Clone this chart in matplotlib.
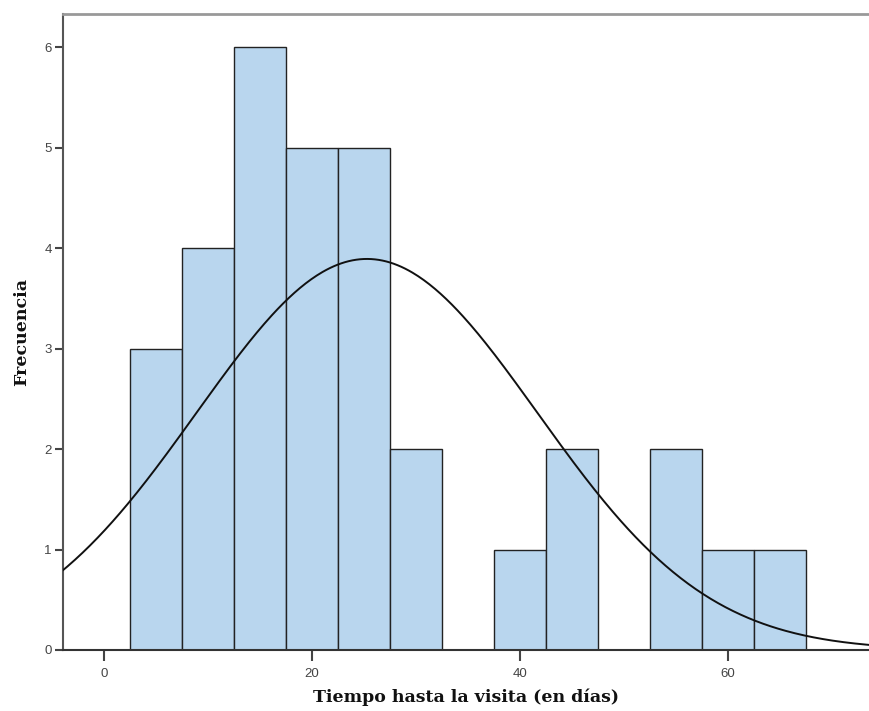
import numpy as np
import matplotlib.pyplot as plt

# histogram of days until visit (bin width 5)
bin_edges = [2.5, 7.5, 12.5, 17.5, 22.5, 27.5, 32.5, 37.5, 42.5, 47.5, 52.5, 57.5, 62.5, 67.5]
counts = [3, 4, 6, 5, 5, 2, 0, 1, 2, 0, 2, 1, 1]
n_total = 32
mean = 25.3
std = 16.4
xticks = [0, 20, 40, 60]
yticks = [0, 1, 2, 3, 4, 5, 6]

fig = plt.figure(figsize=(8.69, 7.11), dpi=100)
ax = fig.add_axes([63 / 869, 61 / 711, 806 / 869, 636 / 711])

lefts = bin_edges[:-1]
widths = np.diff(bin_edges)
for l, w, c in zip(lefts, widths, counts):
    if c > 0:
        ax.bar(l, c, width=w, align='edge', color='#b9d6ee',
               edgecolor='#222222', linewidth=1.0, zorder=2)

xs = np.linspace(-10, 80, 500)
bw = widths[0]
ys = n_total * bw / (std * np.sqrt(2 * np.pi)) * np.exp(-(xs - mean) ** 2 / (2 * std ** 2))
ax.plot(xs, ys, color='#111111', linewidth=1.4, zorder=3)

ax.set_xlim(-3.94, 73.6)
ax.set_ylim(0, 6.33)
ax.set_xticks(xticks)
ax.set_yticks(yticks)

ax.spines['right'].set_visible(False)
ax.spines['top'].set_color('#999999')
ax.spines['top'].set_linewidth(2)
ax.spines['left'].set_color('#555555')
ax.spines['left'].set_linewidth(1.5)
ax.spines['bottom'].set_color('#333333')
ax.spines['bottom'].set_linewidth(1.5)

ax.tick_params(axis='both', colors='#444444', labelsize=9.5, length=6, width=1.5)
ax.tick_params(axis='x', length=8, pad=5)
ax.tick_params(axis='y', pad=2)
for lbl in ax.get_xticklabels() + ax.get_yticklabels():
    lbl.set_family('Liberation Sans')
    lbl.set_color('#444444')

ax.set_xlabel('Tiempo hasta la visita (en días)', family='DejaVu Serif',
              fontweight='bold', fontsize=12.5, labelpad=6, color='#111111')
ax.set_ylabel('Frecuencia', family='DejaVu Serif', fontweight='bold',
              fontsize=12.5, labelpad=10, color='#111111')

plt.savefig('out.png', dpi=100)
